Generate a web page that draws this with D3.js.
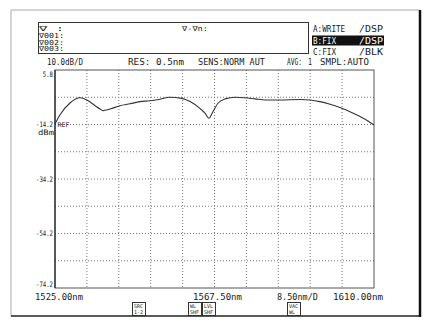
<!DOCTYPE html>
<html>
<head>
<meta charset="utf-8">
<script src="https://cdn.jsdelivr.net/npm/d3@7"></script>
<style>
body { margin: 0; background: #fff; }
text { font-family: "DejaVu Sans Mono", monospace; fill: #1a1a1a; }
</style>
</head>
<body>
<script>
// spectrum trace (nm, dBm)
var wavelength = [1525, 1526.3, 1529.0, 1531.7, 1533.5, 1535.7, 1537.0, 1537.8, 1539.7, 1542.3, 1545.0,
  1547.6, 1550.3, 1552.7, 1555.6, 1558.8, 1561.0, 1563.6, 1565.0, 1566.0, 1567.1, 1568.4, 1570.3,
  1573.0, 1575.6, 1578.3, 1581.0, 1585.0, 1590.3, 1593.0, 1595.6, 1598.3, 1600.9, 1603.6, 1606.3, 1608.4, 1610];
var power = [-14.0, -10.7, -6.3, -4.4, -5.2, -7.3, -8.5, -9.1, -8.5, -7.3, -6.6,
  -5.8, -5.5, -5.0, -4.2, -4.6, -5.8, -8.3, -10.1, -11.9, -9.5, -6.4, -4.8,
  -4.2, -4.4, -4.8, -5.2, -5.2, -5.0, -5.2, -5.8, -6.8, -8.0, -9.5, -11.3, -12.9, -14.4];

var yTicks = [5.8, -14.2, -34.2, -54.2, -74.2];
var yTickLabels = ["5.8", "-14.2", "-34.2", "-54.2", "-74.2"];
var xLabels = ["1525.00nm", "1567.50nm", "8.50nm/D", "1610.00nm"];
var markerRows = ["\u2207   :", "\u2207001:", "\u2207002:", "\u2207003:"];
var traceRows = [["A:WRITE", "/DSP"], ["B:FIX", "/DSP"], ["C:FIX", "/BLK"]];

var width = 430, height = 320;
var svg = d3.select("body").append("svg")
    .attr("width", width)
    .attr("height", height);

var margin = {top: 70, left: 55, right: 56, bottom: 32};
var x = d3.scaleLinear().domain([1525, 1610]).range([margin.left, width - margin.right]);
var y = d3.scaleLinear().domain([-74.2, 5.8]).range([height - margin.bottom, margin.top]);

function txt(px, py, s, size, len, anchor) {
  var t = svg.append("text")
      .attr("x", px).attr("y", py)
      .attr("font-size", size)
      .attr("text-anchor", anchor || "start")
      .text(s);
  if (len) t.attr("textLength", len).attr("lengthAdjust", "spacingAndGlyphs");
  return t;
}

// outer frame
svg.append("path").attr("d", "M11,316V10H420").attr("fill", "none").attr("stroke", "#aaa");
svg.append("line").attr("x1", 11).attr("x2", 421).attr("y1", 316).attr("y2", 316).attr("stroke", "#222").attr("stroke-width", 1.5);
svg.append("line").attr("x1", 420).attr("x2", 420).attr("y1", 10).attr("y2", 317).attr("stroke", "#111").attr("stroke-width", 2.5);

// marker box
svg.append("rect").attr("x", 38.5).attr("y", 22.5).attr("width", 270).attr("height", 31)
    .attr("fill", "none").attr("stroke", "#333");
markerRows.forEach(function(s, i) {
  txt(39, 31 + i * 6.8, s, 7, 25);
});
txt(182, 31, "\u2207-\u2207n:", 7, 26);

// trace status
traceRows.forEach(function(r, i) {
  var by = 32 + i * 11.5;
  if (i === 1) {
    svg.append("rect").attr("x", 312).attr("y", by - 8).attr("width", 72).attr("height", 10).attr("fill", "#111");
  }
  txt(313, by, r[0], 9, r[0].length * 4.6).style("fill", i === 1 ? "#fff" : "#1a1a1a");
  txt(383, by, r[1], 9, 24, "end").style("fill", i === 1 ? "#fff" : "#1a1a1a");
});

// header line
txt(47, 65, "10.0dB/D", 9, 36);
txt(128, 65, "RES: 0.5nm", 9, 56);
txt(198, 65, "SENS:NORM AUT", 9, 67);
txt(287, 65, "AVG:", 9, 15);
txt(310, 65, "1", 9, 4, "middle");
txt(320, 65, "SMPL:AUTO", 9, 49);

// grid
var g = svg.append("g");
g.selectAll(".vgrid")
    .data(d3.range(1, 10).map(function(i) { return 1525 + i * 8.5; }))
    .enter().append("line")
    .attr("x1", function(d) { return x(d); }).attr("x2", function(d) { return x(d); })
    .attr("y1", y(5.8)).attr("y2", y(-74.2))
    .attr("stroke", "#777").attr("stroke-dasharray", "1,2");
g.selectAll(".hgrid")
    .data(d3.range(1, 8).map(function(i) { return 5.8 - i * 10; }))
    .enter().append("line")
    .attr("x1", x(1525)).attr("x2", x(1610))
    .attr("y1", function(d) { return y(d); }).attr("y2", function(d) { return y(d); })
    .attr("stroke", "#777").attr("stroke-dasharray", "1,2");

g.append("rect")
    .attr("x", x(1525)).attr("y", y(5.8))
    .attr("width", x(1610) - x(1525)).attr("height", y(-74.2) - y(5.8))
    .attr("fill", "none").attr("stroke", "#555");
g.append("line").attr("x1", x(1525)).attr("x2", x(1525)).attr("y1", y(5.8)).attr("y2", y(-74.2))
    .attr("stroke", "#222").attr("stroke-width", 1.2);

// y labels
yTicks.forEach(function(v, i) {
  var py = Math.min(Math.max(y(v), 74), 284) + 2.5;
  txt(53, py, yTickLabels[i], 7.5, yTickLabels[i].length * 3.4, "end");
});
txt(54, 135, "dBm", 7.5, 16, "end");
txt(57.5, y(-14.2) + 2.5, "REF", 6.5, 12);

// trace
var pts = wavelength.map(function(w, i) { return [w, power[i]]; });
svg.append("path")
    .datum(pts)
    .attr("fill", "none")
    .attr("stroke", "#333")
    .attr("stroke-width", 1.1)
    .attr("d", d3.line()
      .x(function(d) { return x(d[0]); })
      .y(function(d) { return y(d[1]); })
      .curve(d3.curveMonotoneX));

// x labels
txt(35, 300, xLabels[0], 9, 48);
txt(193, 300, xLabels[1], 9, 49);
txt(277, 300, xLabels[2], 9, 41);
txt(383, 300, xLabels[3], 9, 50, "end");

// soft key icons
var keys = [["SRC", "1-2", 132], ["WL", "SHF", 188], ["LVL", "SHF", 202], ["VAC", "WL", 287]];
keys.forEach(function(k) {
  svg.append("rect").attr("x", k[2] + 0.5).attr("y", 302.5).attr("width", 13).attr("height", 13)
      .attr("fill", "#fff").attr("stroke", "#333");
  txt(k[2] + 2, 308, k[0], 5, k[0].length * 3);
  txt(k[2] + 2, 314, k[1], 5, k[1].length * 3);
});
</script>
</body>
</html>
